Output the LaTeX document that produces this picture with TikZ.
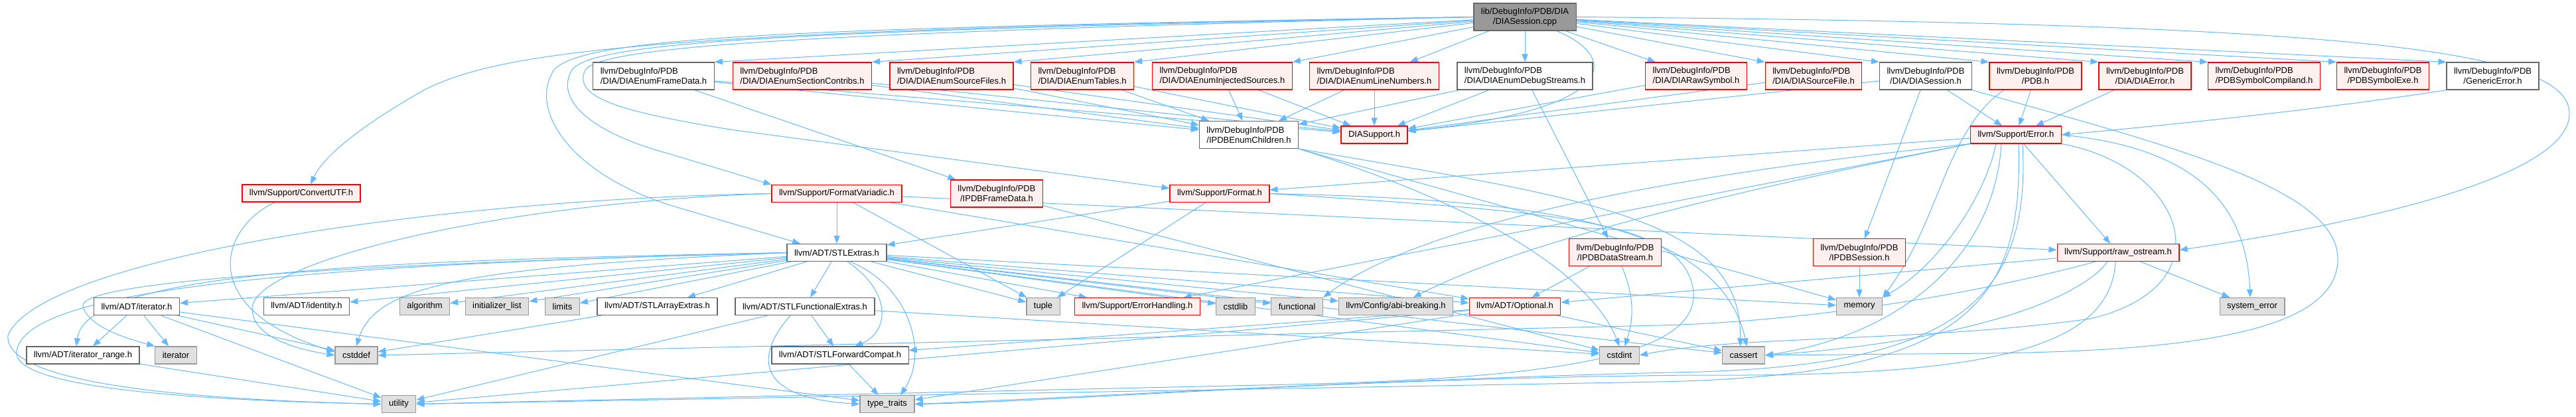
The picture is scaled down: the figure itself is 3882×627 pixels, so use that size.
\documentclass[tikz,border=0pt]{standalone}
\usepackage{fontspec}
\setmainfont{Liberation Sans}
\usetikzlibrary{arrows.meta,backgrounds}
\definecolor{edgeblue}{HTML}{63B8FF}
\definecolor{truncred}{HTML}{FF0000}
\definecolor{truncfill}{HTML}{FFF0F0}
\definecolor{docgrey}{HTML}{666666}
\definecolor{sysgrey}{HTML}{999999}
\definecolor{sysfill}{HTML}{E0E0E0}
\definecolor{srcfill}{HTML}{999999}

\begin{document}
\begin{tikzpicture}[
    x=1pt,y=-1pt,
    >={Triangle[length=12pt,width=9pt]},
    inc/.style={->,draw=edgeblue,line width=1pt},
    box/.style={rectangle,inner xsep=11pt,inner ysep=0pt,minimum height=26pt,
      line width=1.2pt,font=\fontsize{13}{15}\selectfont,text=black},
    tall/.style={box,minimum height=41pt,align=left},
    doc/.style={box,draw=docgrey,fill=white},
    trunc/.style={box,draw=truncred,fill=truncfill},
    sys/.style={box,draw=sysgrey,fill=sysfill},
    srcfile/.style={box,draw=docgrey,fill=srcfill}
  ]
  \useasboundingbox (0,0) rectangle (3882,627);

  % source file
  \node[srcfile,tall,align=center] (dia) at (2298,25.5) {lib/DebugInfo/PDB/DIA\\/DIASession.cpp};

  % directly included headers
  \node[doc,tall] (efd) at (985,114.5) {llvm/DebugInfo/PDB\\/DIA/DIAEnumFrameData.h};
  \node[trunc,tall] (esc) at (1209,114.5) {llvm/DebugInfo/PDB\\/DIA/DIAEnumSectionContribs.h};
  \node[trunc,tall] (esf) at (1434,114.5) {llvm/DebugInfo/PDB\\/DIA/DIAEnumSourceFiles.h};
  \node[trunc,tall] (etab) at (1631,114.5) {llvm/DebugInfo/PDB\\/DIA/DIAEnumTables.h};
  \node[trunc,tall] (eis) at (1842,114.5) {llvm/DebugInfo/PDB\\/DIA/DIAEnumInjectedSources.h};
  \node[trunc,tall] (eln) at (2071,114.5) {llvm/DebugInfo/PDB\\/DIA/DIAEnumLineNumbers.h};
  \node[doc,tall] (eds) at (2298,114.5) {llvm/DebugInfo/PDB\\/DIA/DIAEnumDebugStreams.h};
  \node[trunc,tall] (rsym) at (2556,114.5) {llvm/DebugInfo/PDB\\/DIA/DIARawSymbol.h};
  \node[trunc,tall] (sfile) at (2733,114.5) {llvm/DebugInfo/PDB\\/DIA/DIASourceFile.h};
  \node[doc,tall,align=center] (sessh) at (2902,114.5) {llvm/DebugInfo/PDB\\/DIA/DIASession.h};
  \node[trunc,tall,align=center] (pdbh) at (3067.5,114.5) {llvm/DebugInfo/PDB\\/PDB.h};
  \node[trunc,tall,align=center] (diaerr) at (3232.5,114.5) {llvm/DebugInfo/PDB\\/DIA/DIAError.h};
  \node[trunc,tall] (compiland) at (3412,114.5) {llvm/DebugInfo/PDB\\/PDBSymbolCompiland.h};
  \node[trunc,tall,align=center] (exe) at (3591,114.5) {llvm/DebugInfo/PDB\\/PDBSymbolExe.h};
  \node[doc,tall,align=center] (generr) at (3756.5,114.5) {llvm/DebugInfo/PDB\\/GenericError.h};

  \node[doc,tall] (ench) at (1882,203) {llvm/DebugInfo/PDB\\/IPDBEnumChildren.h};
  \node[trunc] (dsup) at (2071,203) {DIASupport.h};
  \node[trunc] (err) at (3038,203) {llvm/Support/Error.h};

  \node[trunc] (cutf) at (454,291) {llvm/Support/ConvertUTF.h};
  \node[trunc] (fvar) at (1261,291.5) {llvm/Support/FormatVariadic.h};
  \node[trunc,tall,align=center] (fdata) at (1502,291.5) {llvm/DebugInfo/PDB\\/IPDBFrameData.h};
  \node[trunc] (fmt) at (1838,291.5) {llvm/Support/Format.h};

  \node[doc] (stlx) at (1261,380.5) {llvm/ADT/STLExtras.h};
  \node[trunc,tall,align=center] (dstream) at (2434,380.3) {llvm/DebugInfo/PDB\\/IPDBDataStream.h};
  \node[trunc,tall,align=center] (psess) at (2802,380.3) {llvm/DebugInfo/PDB\\/IPDBSession.h};
  \node[trunc] (rawos) at (3192,380.5) {llvm/Support/raw\_ostream.h};

  \node[doc] (iter) at (206,461.5) {llvm/ADT/iterator.h};
  \node[doc] (ident) at (462,461.5) {llvm/ADT/identity.h};
  \node[sys] (algo) at (640,461.5) {algorithm};
  \node[sys] (initl) at (749,461.5) {initializer\_list};
  \node[sys] (lim) at (847.5,461.5) {limits};
  \node[doc] (arrx) at (990.5,461.5) {llvm/ADT/STLArrayExtras.h};
  \node[doc] (funcx) at (1213,461.5) {llvm/ADT/STLFunctionalExtras.h};
  \node[sys] (tup) at (1572,461.5) {tuple};
  \node[trunc] (errh) at (1714,461.5) {llvm/Support/ErrorHandling.h};
  \node[sys] (cstdlib) at (1862,461.5) {cstdlib};
  \node[sys] (func) at (1954.6,461.5) {functional};
  \node[sys] (abi) at (2103.5,461.5) {llvm/Config/abi-breaking.h};
  \node[trunc] (opt) at (2283,461.5) {llvm/ADT/Optional.h};
  \node[sys] (mem) at (2802,461.5) {memory};
  \node[sys] (syserr) at (3394,461.5) {system\_error};

  \node[doc] (irange) at (125,535) {llvm/ADT/iterator\_range.h};
  \node[sys] (iterstd) at (265,535) {iterator};
  \node[sys] (cstddef) at (537,535) {cstddef};
  \node[doc] (fwdc) at (1266,535) {llvm/ADT/STLForwardCompat.h};
  \node[sys] (cstdint) at (2440.5,535) {cstdint};
  \node[sys] (cassert) at (2627.5,535) {cassert};

  \node[sys] (util) at (601,608.5) {utility};
  \node[sys] (ttraits) at (1337,608.5) {type\_traits};

  \begin{scope}[on background layer]
    % includes of the source file
    \foreach \tgt in {efd,esc,esf,etab,eis}
      \draw[inc] (dia) -- (\tgt.north east);
    \foreach \tgt in {eln,eds,rsym}
      \draw[inc] (dia) -- (\tgt);
    \foreach \tgt in {sfile,sessh,pdbh,diaerr,compiland,exe,generr}
      \draw[inc] (dia) -- (\tgt.north west);
    \draw[inc] (dia.west) .. controls (1000,45) and (760,75) .. (640,135)
      .. controls (560,180) and (490,230) .. ([xshift=14pt]cutf.north);
    \draw[inc] (dia.west) .. controls (1200,42) and (880,55) .. (835,105)
      .. controls (795,165) and (860,265) .. (1020,312) -- ([xshift=-55pt]stlx.north);
    \draw[inc] (dia.west) .. controls (1200,46) and (895,62) .. (862,105)
      .. controls (835,150) and (890,200) .. (1010,232) -- (fvar.north west);
    \draw[inc] (dia.west) .. controls (1200,50) and (910,70) .. (882,105)
      .. controls (860,150) and (950,170) .. (1100,195) -- ([yshift=8pt]fmt.west);
    \draw[inc] ([xshift=-30pt]dia.south east) .. controls (2440,85) and (2445,165) .. ([yshift=6pt]dsup.east);
    \draw[inc] (dia.east) .. controls (3500,35) and (3870,70) .. (3872,170)
      .. controls (3874,260) and (3600,330) .. ([yshift=4pt]rawos.east);

    % DIA headers
    \foreach \src in {efd,esc,esf,etab,eis,eln,eds} {
      \draw[inc] (\src) -- (ench);
      \draw[inc] (\src) -- (dsup);
    }
    \foreach \src in {rsym,sfile,sessh}
      \draw[inc] (\src) -- (dsup);
    \draw[inc] (efd) -- (fdata);
    \draw[inc] (eds) -- (dstream);
    \draw[inc] (sessh) -- (psess);
    \foreach \src in {sessh,pdbh,diaerr}
      \draw[inc] (\src) -- (err);
    \draw[inc] (generr.south west) .. controls (3500,165) and (3250,190) .. (err.east);
    \draw[inc] (sessh.south east) .. controls (3250,215) and (3523,280) .. (3523,390)
      .. controls (3523,500) and (3300,528) .. (3000,532) -- (cassert.east);
    \draw[inc] ([xshift=22pt]pdbh.south west) .. controls (2930,200) and (2925,330) .. (mem.north east);

    % PDB interfaces
    \draw[inc] (ench) -- (mem);
    \draw[inc] (ench.south east) .. controls (2250,315) and (2400,420) .. (cstdint.north);
    \draw[inc] (ench.south east) .. controls (2400,300) and (2625,330) .. ([xshift=-5pt]cassert.north);
    \draw[inc] (fdata) -- (cstdint);
    \draw[inc] (dstream) -- (opt);
    \draw[inc] (dstream) to[bend left=20] ([xshift=8pt]cstdint.north);
    \draw[inc] (psess) -- (mem);

    % Support headers
    \draw[inc] (fmt) -- (stlx);
    \draw[inc] (fmt) -- (tup);
    \draw[inc] (fmt.east) .. controls (2300,300) and (2590,330) .. ([xshift=5pt]cassert.north);
    \draw[inc] (fmt.east) .. controls (2350,320) and (2540,330) .. (2552,440)
      .. controls (2560,545) and (2300,572) .. (1900,580) -- (util.east);
    \foreach \tgt in {stlx,tup,opt,rawos}
      \draw[inc] (fvar) -- (\tgt);
    \draw[inc] (fvar.west) .. controls (750,305) and (380,395) .. (380,465)
      .. controls (380,505) and (440,525) .. (cstddef.west);
    \draw[inc] (fvar.west) .. controls (650,300) and (60,390) .. (12,505)
      .. controls (5,580) and (300,602) .. (util.west);
    \draw[inc] ([xshift=-40pt]cutf.south) .. controls (330,345) and (295,465) .. ([yshift=5pt]cstddef.west);

    \draw[inc] (err) -- (fmt);
    \draw[inc] (err) -- (errh);
    \draw[inc] (err) -- (rawos);
    \draw[inc] (err.south west) .. controls (2650,280) and (2300,360) .. (abi);
    \draw[inc] (err.south west) .. controls (2550,260) and (2150,330) .. (func.north east);
    \draw[inc] ([xshift=-30pt]err.south) .. controls (2990,300) and (2920,400) .. (mem.north east);
    \draw[inc] ([xshift=-22pt]err.south) .. controls (3005,390) and (2860,505) .. (cassert.east);
    \draw[inc] ([xshift=10pt]err.south) .. controls (3060,450) and (2950,548) .. (2560,560)
      .. controls (2100,570) and (1600,600) .. (ttraits.east);
    \draw[inc] ([xshift=4pt]err.south) .. controls (3050,470) and (2950,565) .. (2500,575) -- (util.east);
    \draw[inc] (err.east) .. controls (3300,222) and (3385,300) .. ([xshift=-3pt]syserr.north);
    \draw[inc] (err.south east) .. controls (3290,250) and (3360,430) .. (3150,480)
      .. controls (2900,515) and (2620,505) .. (cstdint.east);

    \draw[inc] (rawos) -- (syserr);
    \draw[inc] (rawos) -- (opt);
    \draw[inc] ([xshift=-16pt]rawos.south) .. controls (3130,455) and (2950,515) .. (cassert.east);
    \draw[inc] ([xshift=-34pt]rawos.south) .. controls (2950,450) and (2700,485) .. (2500,490) -- (cstddef.east);
    \draw[inc] ([xshift=-4pt]rawos.south) .. controls (3180,525) and (3000,568) .. (2550,565)
      .. controls (2000,570) and (1600,605) .. (ttraits.east);

    % ADT headers
    \foreach \tgt in {iter,ident,algo,initl,lim,arrx,funcx,tup,errh,cstdlib,func,abi,opt,mem,cstdint,cassert}
      \draw[inc] (stlx) -- (\tgt);
    \draw[inc] (stlx.west) .. controls (600,392) and (130,405) .. ([xshift=-10pt]irange.north);
    \draw[inc] (stlx.west) .. controls (600,396) and (112,420) .. (125,462)
      .. controls (135,495) and (200,512) .. (iterstd.north west);
    \draw[inc] (stlx.west) .. controls (500,398) and (35,430) .. (25,530)
      .. controls (20,585) and (300,603) .. (util.west);
    \draw[inc] (stlx.west) .. controls (700,402) and (565,430) .. (cstddef.north);
    \draw[inc] ([xshift=20pt]stlx.south) .. controls (1370,430) and (1400,530) .. ([xshift=20pt]ttraits.north);
    \draw[inc] ([xshift=16pt]stlx.south) .. controls (1345,440) and (1340,500) .. ([xshift=22pt]fwdc.north);

    \foreach \tgt in {irange,iterstd,cstddef,util,ttraits}
      \draw[inc] (iter) -- (\tgt);
    \draw[inc] (irange) -- (util);
    \draw[inc] (arrx) -- (cstddef);
    \foreach \tgt in {fwdc,util,cstdint}
      \draw[inc] (funcx) -- (\tgt);
    \draw[inc] ([xshift=-22pt]funcx.south) .. controls (1130,545) and (1150,600) .. (ttraits.west);
    \draw[inc] (fwdc) -- (ttraits);
    \foreach \tgt in {fwdc,ttraits,util,cassert}
      \draw[inc] (opt) -- (\tgt);
  \end{scope}
\end{tikzpicture}
\end{document}
